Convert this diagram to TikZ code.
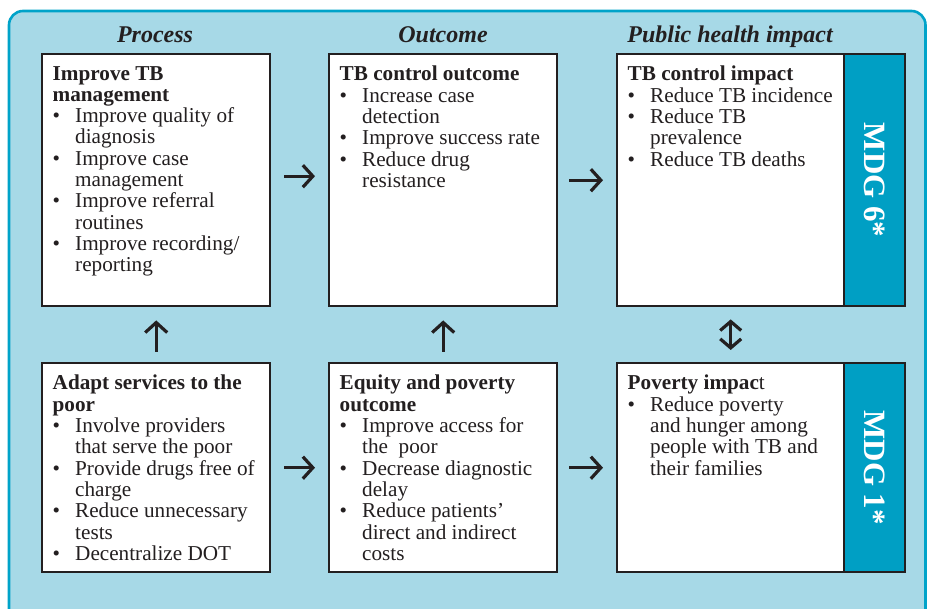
\documentclass[tikz,border=0pt]{standalone}
\usepackage{fontspec}
\setmainfont{Liberation Serif}
\usetikzlibrary{arrows.meta}
\definecolor{bgblue}{HTML}{A7D9E7}
\definecolor{edgeblue}{HTML}{00A3C9}
\definecolor{mdgblue}{HTML}{009FC4}
\definecolor{ink}{HTML}{231F20}
\newcommand\bul{\makebox[22.5pt][l]{\textbullet}}
\newcommand\ind{\hspace*{22.5pt}}
\tikzset{
  box/.style={draw=ink, fill=white, line width=2.4pt, anchor=north west, inner sep=0pt, minimum width=228pt, minimum height=252pt},
  bar/.style={draw=ink, fill=mdgblue, line width=2.4pt, anchor=north west, inner sep=0pt, minimum width=61pt, minimum height=252pt},
  bodytext/.style={anchor=north west, inner sep=0pt, align=left, text=ink, font=\fontsize{21.2}{21.3}\selectfont},
  coltitle/.style={anchor=base, inner sep=0pt, text=ink, font=\fontsize{24}{28}\selectfont\bfseries\itshape},
  mdglabel/.style={rotate=-90, inner sep=0pt, text=white, font=\fontsize{31}{34}\selectfont\bfseries},
  arr/.style={draw=ink, line width=3.2pt, -{Straight Barb[length=10pt,width=22pt]}},
  dblarr/.style={draw=ink, line width=3.2pt, {Straight Barb[length=9pt,width=21pt]}-{Straight Barb[length=9pt,width=21pt]}}
}
\begin{document}
\begin{tikzpicture}[x=1pt,y=-1pt]
\useasboundingbox (0,0) rectangle (927,609);
\begin{scope}
\clip (0,0) rectangle (927,609);
\draw[draw=edgeblue, fill=bgblue, line width=2.6pt, rounded corners=14pt] (9,11) rectangle (925.5,625);
\end{scope}
% titles
\node[coltitle] (t1) at (155,43) {Process};
\node[coltitle] (t2) at (443,43) {Outcome};
\node[coltitle] (t3) at (730,43) {Public health impact};
% top row
\node[box] (p1) at (41,53) {};
\node[box] (p2) at (328,53) {};
\node[box, minimum width=227pt] (p3) at (616,53) {};
\node[bar] (m6) at (843,53) {};
\node[mdglabel] (m6t) at (m6.center) {MDG 6*};
% bottom row
\node[box, minimum height=209pt] (q1) at (41,362) {};
\node[box, minimum height=209pt] (q2) at (328,362) {};
\node[box, minimum width=227pt, minimum height=209pt] (q3) at (616,362) {};
\node[bar, minimum height=209pt] (m1) at (843,362) {};
\node[mdglabel] (m1t) at (m1.center) {MDG 1*};
% texts
\node[bodytext] (p1t) at (52.5,66) {\textbf{Improve TB}\\
\textbf{management}\\
\bul Improve quality of\\
\ind diagnosis\\
\bul Improve case\\
\ind management\\
\bul Improve referral\\
\ind routines\\
\bul Improve recording/\\
\ind reporting};
\node[bodytext] (p2t) at (339.5,66) {\textbf{TB control outcome}\\
\bul Increase case\\
\ind detection\\
\bul Improve success rate\\
\bul Reduce drug\\
\ind resistance};
\node[bodytext] (p3t) at (627.5,66) {\textbf{TB control impact}\\
\bul Reduce TB incidence\\
\bul Reduce TB\\
\ind prevalence\\
\bul Reduce TB deaths};
\node[bodytext] (q1t) at (52.5,375) {\textbf{Adapt services to the}\\
\textbf{poor}\\
\bul Involve providers\\
\ind that serve the poor\\
\bul Provide drugs free of\\
\ind charge\\
\bul Reduce unnecessary\\
\ind tests\\
\bul Decentralize DOT};
\node[bodytext] (q2t) at (339.5,375) {\textbf{Equity and poverty}\\
\textbf{outcome}\\
\bul Improve access for\\
\ind the\ \ poor\\
\bul Decrease diagnostic\\
\ind delay\\
\bul Reduce patients’\\
\ind direct and indirect\\
\ind costs};
\node[bodytext] (q3t) at (627.5,375) {\textbf{Poverty impac}t\\
\bul Reduce poverty\\
\ind and hunger among\\
\ind people with TB and\\
\ind their families};
% arrows
\draw[arr, shorten <=13pt, shorten >=13pt] ([yshift=4pt]p1.east) -- ([yshift=4pt]p2.west);
\draw[arr, shorten <=11pt, shorten >=13pt] (p2.east) -- (p3.west);
\draw[arr, shorten <=13pt, shorten >=13pt] (q1.east) -- (q2.west);
\draw[arr, shorten <=11pt, shorten >=13pt] (q2.east) -- (q3.west);
\draw[arr, shorten <=10pt, shorten >=13pt] (q1.north) -- (p1.south);
\draw[arr, shorten <=10pt, shorten >=13pt] (q2.north) -- (p2.south);
\draw[dblarr, shorten <=12pt, shorten >=12pt] (p3.south) -- (q3.north);
\end{tikzpicture}
\end{document}
